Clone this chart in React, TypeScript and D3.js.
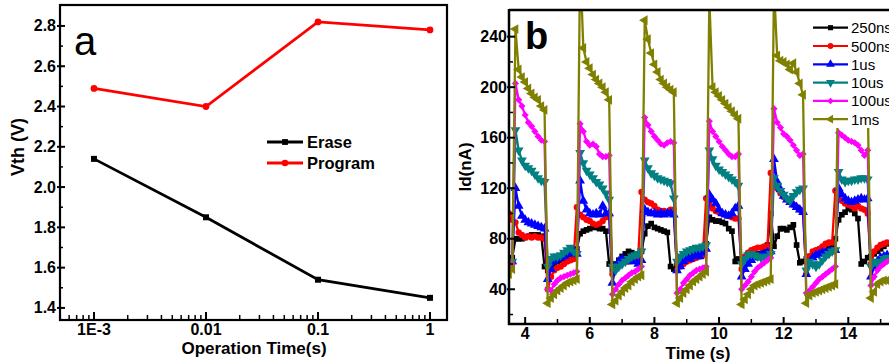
import React from 'react';
import * as d3 from 'd3';

// ---------- Panel a data ----------
const OP_TIMES = [0.001, 0.01, 0.1, 1];
const OP_TICK_LABELS = ['1E-3', '0.01', '0.1', '1'];
const ERASE = [2.14, 1.85, 1.54, 1.45];
const PROGRAM = [2.49, 2.4, 2.82, 2.78];
const VTH_TICKS = [1.4, 1.6, 1.8, 2.0, 2.2, 2.4, 2.6, 2.8];
const VTH_MINOR = [1.5, 1.7, 1.9, 2.1, 2.3, 2.5, 2.7];

// ---------- Panel b data ----------
const TIME_S = [
  3.5, 3.6,
  3.7, 3.8, 3.9, 4.0, 4.1, 4.2, 4.3, 4.4, 4.5, 4.6, 4.7, 4.8, 4.9, 5.0, 5.1, 5.2, 5.3, 5.4, 5.5, 5.6,
  5.7, 5.8, 5.9, 6.0, 6.1, 6.2, 6.3, 6.4, 6.5, 6.6, 6.7, 6.8, 6.9, 7.0, 7.1, 7.2, 7.3, 7.4, 7.5, 7.6,
  7.7, 7.8, 7.9, 8.0, 8.1, 8.2, 8.3, 8.4, 8.5, 8.6, 8.7, 8.8, 8.9, 9.0, 9.1, 9.2, 9.3, 9.4, 9.5, 9.6,
  9.7, 9.8, 9.9, 10.0, 10.1, 10.2, 10.3, 10.4, 10.5, 10.6, 10.7, 10.8, 10.9, 11.0, 11.1, 11.2, 11.3, 11.4, 11.5, 11.6,
  11.7, 11.8, 11.9, 12.0, 12.1, 12.2, 12.3, 12.4, 12.5, 12.6, 12.7, 12.8, 12.9, 13.0, 13.1, 13.2, 13.3, 13.4, 13.5, 13.6,
  13.7, 13.8, 13.9, 14.0, 14.1, 14.2, 14.3, 14.4, 14.5, 14.6, 14.7, 14.8, 14.9, 15.0, 15.1, 15.2,
];

const ID_250NS = [
  62, 65,
  80, 80, 80, 81, 82, 83, 83, 83, 82, 58, 55, 58, 60, 62, 63, 64, 65, 66, 68, 72,
  84, 86, 87, 88, 89, 89, 88, 88, 86, 60, 56, 60, 63, 66, 68, 70, 69, 68, 66, 70,
  84, 90, 92, 89, 88, 87, 86, 85, 58, 56, 60, 64, 66, 68, 70, 70, 69, 70, 72, 76,
  97, 95, 94, 94, 93, 92, 88, 86, 62, 64, 62, 64, 66, 66, 67, 68, 68, 70, 75, 100,
  74, 82, 88, 88, 87, 89, 91, 75, 61, 62, 64, 66, 67, 68, 69, 70, 70, 72, 75, 80,
  95, 99, 101, 104, 103, 100, 96, 60, 62, 65, 66, 68, 70, 72, 74, 76,
];
const ID_500NS = [
  100, 95,
  93, 85, 83, 81, 82, 81, 82, 81, 81, 80, 40, 50, 55, 57, 58, 60, 62, 63, 64, 105,
  99, 97, 95, 94, 92, 91, 92, 94, 97, 98, 52, 56, 59, 61, 62, 62, 64, 64, 66, 117,
  111, 109, 108, 106, 103, 102, 102, 101, 103, 103, 55, 58, 60, 62, 63, 64, 65, 66, 67, 112,
  108, 104, 102, 101, 100, 99, 98, 97, 96, 96, 56, 66, 69, 71, 72, 73, 73, 74, 74, 132,
  125, 120, 116, 113, 111, 109, 107, 105, 103, 101, 52, 66, 70, 71, 72, 74, 76, 77, 77, 118,
  113, 110, 108, 107, 106, 104, 106, 104, 103, 100, 60, 70, 73, 75, 76, 77,
];
const ID_1US = [
  60, 62,
  120, 106, 98, 95, 93, 92, 91, 90, 89, 88, 48, 56, 62, 64, 65, 66, 68, 69, 70, 68,
  126, 110, 103, 100, 99, 100, 99, 106, 100, 100, 45, 58, 62, 64, 63, 62, 64, 62, 60, 63,
  103, 101, 100, 100, 99, 100, 99, 100, 100, 99, 55, 58, 62, 65, 64, 66, 68, 66, 69, 72,
  115, 111, 108, 103, 100, 99, 98, 100, 104, 106, 50, 56, 60, 63, 65, 66, 67, 68, 69, 70,
  143, 125, 119, 114, 111, 109, 107, 105, 103, 101, 52, 60, 65, 67, 68, 69, 69, 70, 70, 71,
  120, 115, 112, 110, 109, 110, 111, 112, 111, 112, 50, 58, 62, 65, 66, 67,
];
const ID_10US = [
  60, 62,
  166, 150, 142, 138, 136, 134, 131, 128, 126, 125, 58, 64, 66, 66, 67, 69, 71, 73, 70, 68,
  148, 140, 134, 131, 128, 125, 123, 120, 116, 111, 58, 55, 58, 60, 62, 64, 66, 67, 68, 70,
  142, 136, 132, 130, 128, 127, 126, 125, 124, 112, 62, 66, 68, 70, 71, 72, 73, 73, 74, 75,
  150, 143, 138, 135, 133, 131, 129, 127, 125, 122, 60, 64, 67, 68, 67, 66, 65, 65, 66, 68,
  128, 122, 118, 115, 112, 110, 114, 117, 119, 120, 55, 62, 60, 58, 60, 63, 66, 68, 70, 71,
  133, 127, 125, 126, 126, 127, 127, 128, 128, 127, 58, 62, 60, 62, 64, 65,
];
const ID_100US = [
  56, 60,
  203, 190, 185, 178, 172, 169, 165, 161, 158, 157, 40, 39, 44, 47, 49, 50, 51, 52, 53, 54,
  171, 165, 157, 154, 155, 153, 147, 145, 145, 146, 36, 40, 44, 47, 49, 51, 53, 54, 56, 58,
  176, 170, 165, 161, 158, 155, 154, 156, 157, 156, 37, 40, 45, 48, 51, 53, 55, 56, 57, 58,
  173, 165, 161, 157, 153, 150, 147, 145, 145, 147, 40, 43, 46, 50, 54, 57, 59, 61, 63, 65,
  183, 172, 168, 163, 161, 158, 154, 150, 146, 147, 37, 39, 42, 45, 48, 50, 52, 54, 56, 58,
  164, 162, 160, 158, 157, 156, 154, 150, 146, 150, 43, 50, 55, 58, 60, 62,
];
const ID_1MS = [
  52, 56,
  246, 214, 208, 204, 199, 195, 192, 190, 185, 182, 29, 33, 36, 39, 41, 43, 45, 46, 47, 48,
  300, 231, 220, 215, 210, 206, 203, 200, 196, 190, 28, 31, 35, 38, 41, 43, 46, 48, 50, 51,
  253, 238, 227, 218, 212, 206, 203, 200, 198, 196, 29, 33, 37, 40, 43, 46, 48, 50, 52, 54,
  270, 200, 196, 193, 190, 187, 184, 181, 178, 175, 28, 32, 36, 40, 43, 44, 45, 46, 47, 48,
  280, 225, 221, 220, 218, 214, 219, 212, 203, 194, 29, 35, 37, 38, 39, 40, 41, 42, 43, 44,
  240, 225, 218, 212, 208, 204, 200, 196, 193, 190, 33, 38, 44, 46, 47, 47,
];

const SERIES_NAMES = ['250ns', '500ns', '1us', '10us', '100us', '1ms'];
const SERIES_VALUES = [ID_250NS, ID_500NS, ID_1US, ID_10US, ID_100US, ID_1MS];
const SERIES_COLORS = ['#000000', '#ff0000', '#0000ff', '#008080', '#ff00ff', '#808000'];
const SERIES_MARKERS = ['square', 'circle', 'up', 'down', 'diamond', 'left'];
const ID_TICKS = [40, 80, 120, 160, 200, 240];
const ID_MINOR = [20, 60, 100, 140, 180, 220];
const TIME_TICKS = [4, 6, 8, 10, 12, 14];
const TIME_MINOR = [5, 7, 9, 11, 13, 15];

const FONT = '"Liberation Sans", Arial, sans-serif';

function markerPath(kind: string, size: number) {
  if (kind === 'square') return { d: d3.symbol(d3.symbolSquare, size)() as string, rot: 0 };
  if (kind === 'circle') return { d: d3.symbol(d3.symbolCircle, size)() as string, rot: 0 };
  if (kind === 'up') return { d: d3.symbol(d3.symbolTriangle, size * 1.3)() as string, rot: 0 };
  if (kind === 'down') return { d: d3.symbol(d3.symbolTriangle, size * 1.3)() as string, rot: 180 };
  if (kind === 'left') return { d: d3.symbol(d3.symbolTriangle, size * 1.3)() as string, rot: -90 };
  return { d: d3.symbol(d3.symbolSquare, size * 0.8)() as string, rot: 45 };
}

export default function App() {
  // Panel a scales
  const xA = d3.scaleLog().domain([Math.pow(10, -3.3036), Math.pow(10, 0.1518)]).range([60, 447]);
  const yA = d3.scaleLinear().domain([1.34, 2.904]).range([320, 5]);
  const lineA = d3.line<number>().x((_, i) => xA(OP_TIMES[i])).y((d) => yA(d));
  const logMinor = xA.ticks().filter((t) => Math.abs(Math.log10(t) - Math.round(Math.log10(t))) > 1e-6);

  // Panel b scales
  const xB = d3.scaleLinear().domain([3.5, 15.6]).range([509, 900]);
  const yB = d3.scaleLinear().domain([12.5, 261.1]).range([324, 10]);
  const lineB = d3.line<number>().x((_, i) => xB(TIME_S[i])).y((d) => yB(d));

  const legendA = [
    { name: 'Erase', color: '#000000', kind: 'square', y: 142 },
    { name: 'Program', color: '#ff0000', kind: 'circle', y: 163 },
  ];

  return (
    <svg width={889} height={364} style={{ position: 'absolute', left: 0, top: 0, background: '#fff' }}>
      <defs>
        <clipPath id="clipB">
          <rect x={509} y={10} width={391} height={314} />
        </clipPath>
      </defs>
      <rect x={0} y={0} width={889} height={364} fill="#fff" />

      {/* ---------------- Panel a ---------------- */}
      <rect x={60} y={5} width={387} height={315} fill="none" stroke="#000" strokeWidth={2.2} />
      {VTH_TICKS.map((t) => (
        <g key={'ya' + t}>
          <line x1={57} x2={65} y1={yA(t)} y2={yA(t)} stroke="#000" strokeWidth={2} />
          <text x={56} y={yA(t) + 5.5} textAnchor="end" fontFamily={FONT} fontWeight="bold" fontSize={16}>
            {t.toFixed(1)}
          </text>
        </g>
      ))}
      {VTH_MINOR.map((t) => (
        <line key={'yam' + t} x1={60} x2={63} y1={yA(t)} y2={yA(t)} stroke="#000" strokeWidth={1.5} />
      ))}
      {OP_TIMES.map((t, i) => (
        <g key={'xa' + t}>
          <line x1={xA(t)} x2={xA(t)} y1={320} y2={312} stroke="#000" strokeWidth={2} />
          <text x={xA(t)} y={335} textAnchor="middle" fontFamily={FONT} fontWeight="bold" fontSize={16}>
            {OP_TICK_LABELS[i]}
          </text>
        </g>
      ))}
      {logMinor.map((t, i) => (
        <line key={'xam' + i} x1={xA(t)} x2={xA(t)} y1={320} y2={315} stroke="#000" strokeWidth={1.5} />
      ))}
      <text x={254} y={354} textAnchor="middle" fontFamily={FONT} fontWeight="bold" fontSize={17}>
        Operation Time(s)
      </text>
      <text
        transform={`translate(24,147) rotate(-90)`}
        textAnchor="middle"
        fontFamily={FONT}
        fontWeight="bold"
        fontSize={18}
      >
        Vth (V)
      </text>
      <text x={74} y={55} fontFamily={FONT} fontSize={40}>
        a
      </text>

      <path d={lineA(PROGRAM) as string} fill="none" stroke="#ff0000" strokeWidth={2.8} />
      <path d={lineA(ERASE) as string} fill="none" stroke="#000000" strokeWidth={2.8} />
      {PROGRAM.map((v, i) => {
        const m = markerPath('circle', 36);
        return <path key={'pm' + i} d={m.d} transform={`translate(${xA(OP_TIMES[i])},${yA(v)})`} fill="#ff0000" />;
      })}
      {ERASE.map((v, i) => {
        const m = markerPath('square', 36);
        return <path key={'em' + i} d={m.d} transform={`translate(${xA(OP_TIMES[i])},${yA(v)})`} fill="#000000" />;
      })}
      {legendA.map((l) => {
        const m = markerPath(l.kind, 34);
        return (
          <g key={l.name}>
            <line x1={267} x2={303} y1={l.y} y2={l.y} stroke={l.color} strokeWidth={2.8} />
            <path d={m.d} transform={`translate(285,${l.y})`} fill={l.color} />
            <text x={307} y={l.y + 6} fontFamily={FONT} fontWeight="bold" fontSize={16.5}>
              {l.name}
            </text>
          </g>
        );
      })}

      {/* ---------------- Panel b ---------------- */}
      <g clipPath="url(#clipB)">
        {SERIES_VALUES.map((vals, s) => (
          <g key={'s' + s}>
            <path d={lineB(vals) as string} fill="none" stroke={SERIES_COLORS[s]} strokeWidth={2.3} />
            {vals.map((v, i) => {
              const m = markerPath(SERIES_MARKERS[s], 32);
              return (
                <path
                  key={i}
                  d={m.d}
                  transform={`translate(${xB(TIME_S[i])},${yB(v)}) rotate(${m.rot})`}
                  fill={SERIES_COLORS[s]}
                />
              );
            })}
          </g>
        ))}
      </g>

      <line x1={509} x2={900} y1={10} y2={10} stroke="#000" strokeWidth={2.5} />
      <line x1={509} x2={509} y1={9} y2={325} stroke="#000" strokeWidth={2.5} />
      <line x1={508} x2={900} y1={324} y2={324} stroke="#000" strokeWidth={2.5} />
      {ID_TICKS.map((t) => (
        <g key={'yb' + t}>
          <line x1={507} x2={515} y1={yB(t)} y2={yB(t)} stroke="#000" strokeWidth={2} />
          <text x={507} y={yB(t) + 5.5} textAnchor="end" fontFamily={FONT} fontWeight="bold" fontSize={16}>
            {t}
          </text>
        </g>
      ))}
      {ID_MINOR.map((t) => (
        <line key={'ybm' + t} x1={509} x2={513} y1={yB(t)} y2={yB(t)} stroke="#000" strokeWidth={1.5} />
      ))}
      {TIME_TICKS.map((t) => (
        <g key={'xb' + t}>
          <line x1={xB(t)} x2={xB(t)} y1={324} y2={317} stroke="#000" strokeWidth={2} />
          <text x={xB(t)} y={339} textAnchor="middle" fontFamily={FONT} fontWeight="bold" fontSize={16}>
            {t}
          </text>
        </g>
      ))}
      {TIME_MINOR.map((t) => (
        <line key={'xbm' + t} x1={xB(t)} x2={xB(t)} y1={324} y2={319} stroke="#000" strokeWidth={1.5} />
      ))}
      <text x={698} y={359} textAnchor="middle" fontFamily={FONT} fontWeight="bold" fontSize={17}>
        Time (s)
      </text>
      <text
        transform={`translate(471,167) rotate(-90)`}
        textAnchor="middle"
        fontFamily={FONT}
        fontWeight="bold"
        fontSize={17}
      >
        Id(nA)
      </text>
      <text x={525} y={49} fontFamily={FONT} fontWeight="bold" fontSize={38}>
        b
      </text>

      {/* legend b */}
      <rect x={810} y={17} width={79} height={111} fill="#fff" />
      {SERIES_NAMES.map((name, s) => {
        const y = 27.7 + s * 18.3;
        const m = markerPath(SERIES_MARKERS[s], 26);
        return (
          <g key={'lg' + s}>
            <line x1={813} x2={848} y1={y} y2={y} stroke={SERIES_COLORS[s]} strokeWidth={2.2} />
            <path d={m.d} transform={`translate(830.5,${y}) rotate(${m.rot})`} fill={SERIES_COLORS[s]} />
            <text x={851} y={y + 5.5} fontFamily={FONT} fontSize={15}>
              {name}
            </text>
          </g>
        );
      })}
    </svg>
  );
}
